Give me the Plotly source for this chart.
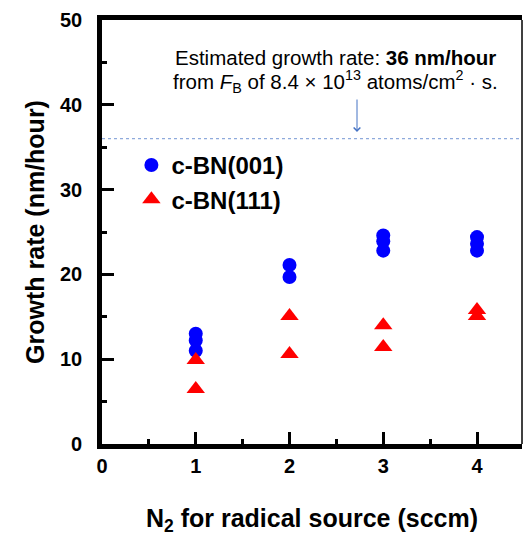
import plotly.graph_objects as go

# Data
x_001 = [1, 1, 1, 2, 2, 3, 3, 3, 4, 4, 4]
y_001 = [13.0, 12.2, 11.0, 21.1, 19.7, 24.6, 23.9, 22.8, 24.4, 23.6, 22.8]
x_111 = [1, 1, 2, 2, 3, 3, 4, 4]
y_111 = [9.9, 6.5, 15.1, 10.6, 14.0, 11.45, 15.8, 15.1]
estimated_rate = 36
arrow_x = 2.72
x_range = [0, 4.48]
y_range = [0, 50]

FONT = "Liberation Sans, Arial, sans-serif"

fig = go.Figure()
fig.add_trace(go.Scatter(
    x=x_001, y=y_001, mode="markers", name="<b>c-BN(001)</b>",
    marker=dict(symbol="circle", size=14, color="#0000FF"),
    legendgroup="a",
))
fig.add_trace(go.Scatter(
    x=x_111, y=y_111, mode="markers", name="<b>c-BN(111)</b>",
    marker=dict(symbol="triangle-up", size=16, color="#FF0000"),
    legendgroup="b",
))

fig.add_shape(type="line", xref="paper", yref="y", x0=0, x1=1,
              y0=estimated_rate, y1=estimated_rate,
              line=dict(color="#8FAADC", width=1.2, dash="dot"))
# thin right frame
fig.add_shape(type="line", xref="paper", yref="paper", x0=1, x1=1, y0=0, y1=1,
              line=dict(color="black", width=1.5))

fig.add_annotation(
    x=arrow_x, y=estimated_rate + 0.8, ax=arrow_x, ay=estimated_rate + 4.8,
    xref="x", yref="y", axref="x", ayref="y",
    showarrow=True, arrowhead=4, arrowsize=1.3, arrowwidth=1,
    arrowcolor="#4472C4", text="",
)
fig.add_annotation(
    x=(335 - 102) / 420, y=(444 - 57) / 424, xref="paper", yref="paper",
    xanchor="center", yanchor="middle",
    showarrow=False, text="Estimated growth rate: <b>36 nm/hour</b>",
    font=dict(family=FONT, size=20.5, color="black"),
)
fig.add_annotation(
    x=(335 - 102) / 420, y=(444 - 81) / 424, xref="paper", yref="paper",
    xanchor="center", yanchor="middle",
    showarrow=False,
    text="from <i>F</i><sub>B</sub> of 8.4 × 10<sup>13</sup> atoms/cm<sup>2</sup> · s.",
    font=dict(family=FONT, size=20.5, color="black"),
)

fig.update_xaxes(
    range=x_range, dtick=1, tick0=0, ticks="inside", ticklen=12, tickwidth=3, tickcolor="black",
    minor=dict(dtick=0.5, tick0=0, ticks="inside", ticklen=5, tickwidth=3, tickcolor="black"),
    showline=True, linewidth=4.5, linecolor="black", mirror=True,
    showgrid=False, zeroline=False,
    tickfont=dict(family=FONT, size=20, color="black", weight="bold"),
    title=dict(text="<b>N<sub>2</sub> for radical source (sccm)</b>",
               font=dict(family=FONT, size=25, color="black"), standoff=36),
)
fig.update_yaxes(
    range=y_range, dtick=10, tick0=0, ticks="inside", ticklen=12, tickwidth=3, tickcolor="black",
    minor=dict(dtick=5, tick0=0, ticks="inside", ticklen=5, tickwidth=3, tickcolor="black"),
    showline=True, linewidth=4.5, linecolor="black", mirror=False,
    showgrid=False, zeroline=False, ticksuffix="\u00a0\u00a0",
    tickfont=dict(family=FONT, size=20, color="black", weight="bold"),
    title=dict(text="<b>Growth rate (nm/hour)</b>",
               font=dict(family=FONT, size=25, color="black"), standoff=10),
)

fig.update_layout(
    width=525, height=536,
    margin=dict(l=102, r=3, t=20, b=92),
    paper_bgcolor="white", plot_bgcolor="white",
    showlegend=True,
    legend=dict(x=0.07, y=0.71, xanchor="left", yanchor="top",
                font=dict(family=FONT, size=24, color="black"),
                bgcolor="rgba(0,0,0,0)", traceorder="grouped", tracegroupgap=0,
                itemsizing="trace"),
)

fig.write_html("out.html")
